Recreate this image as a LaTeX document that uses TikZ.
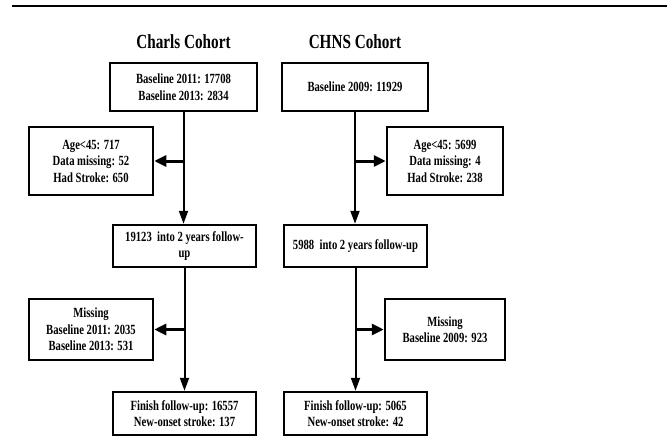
\documentclass[tikz,border=0pt]{standalone}
\usepackage{fontspec}
\usepackage{tikz}
\usetikzlibrary{arrows.meta}
\newfontfamily\flowfont[FakeStretch=0.76]{Liberation Serif}

\begin{document}
\begin{tikzpicture}[x=1pt, y=-1pt,
		box/.style = {draw, line width=2.5pt, align=center, font=\flowfont\bfseries\fontsize{14}{16.5}\selectfont, inner sep=0pt},
		flow/.style = {line width=2pt, -{Triangle[width=9pt, length=13pt]}},
		branch/.style = {line width=3pt, -{Triangle[width=11pt, length=12pt]}},
		title/.style = {font=\flowfont\bfseries\fontsize{20}{22}\selectfont}]
	\useasboundingbox (0,0) rectangle (667,437);

	\draw [line width=2pt] (12,6) -- (667,6);

	\node [title] (tCharls) at (183.5,42) {Charls Cohort};
	\node [title] (tCHNS) at (355,42) {CHNS Cohort};

	% Charls
	\node [box, minimum width=147, minimum height=48] (A1) at (183.5,87) {Baseline 2011: 17708\\Baseline 2013: 2834};
	\node [box, minimum width=124, minimum height=68] (L1) at (91,161) {Age<45: 717\\Data missing: 52\\Had Stroke: 650};
	\node [box, minimum width=143, minimum height=42] (A2) at (184.5,246) {19123\ \ into 2 years follow-\\up};
	\node [box, minimum width=124, minimum height=61] (L2) at (91,329.5) {Missing\\Baseline 2011: 2035\\Baseline 2013: 531};
	\node [box, minimum width=143, minimum height=43] (A3) at (184.5,413.5) {Finish follow-up: 16557\\New-onset stroke: 137};

	% CHNS
	\node [box, minimum width=146, minimum height=48] (B1) at (355,87) {Baseline 2009: 11929};
	\node [box, minimum width=116, minimum height=68] (R1) at (445,161) {Age<45: 5699\\Data missing: 4\\Had Stroke: 238};
	\node [box, minimum width=143, minimum height=42] (B2) at (355.5,246) {5988\ \ into 2 years follow-up};
	\node [box, minimum width=120, minimum height=61] (R2) at (445,329.5) {Missing\\Baseline 2009: 923};
	\node [box, minimum width=143, minimum height=43] (B3) at (355.5,413.5) {Finish follow-up: 5065\\New-onset stroke: 42};

	\begin{scope}
		\draw [flow] (A1.south) -- (A1.south |- A2.north);
		\draw [flow] (A2.south) -- (A2.south |- A3.north);
		\draw [flow] (B1.south) -- (B1.south |- B2.north);
		\draw [flow] (B2.south) -- (B2.south |- B3.north);

		\draw [branch] (L1.east -| A1.south) -- (L1.east);
		\draw [branch] (L2.east -| A2.south) -- (L2.east);
		\draw [branch] (R1.west -| B1.south) -- (R1.west);
		\draw [branch] (R2.west -| B2.south) -- (R2.west);
	\end{scope}
\end{tikzpicture}
\end{document}
